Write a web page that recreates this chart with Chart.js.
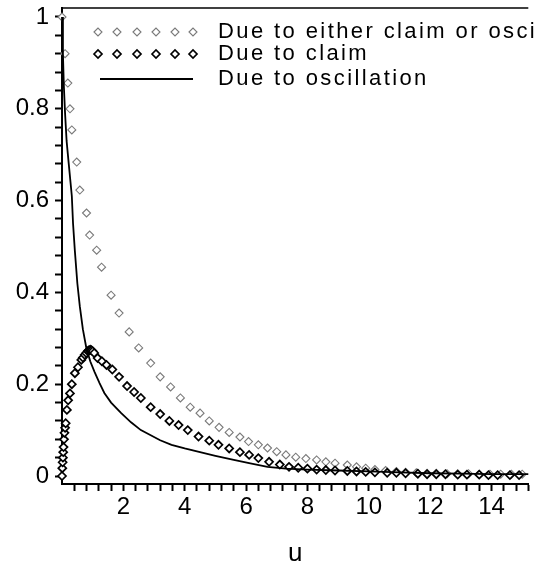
<!DOCTYPE html>
<html>
<head>
<meta charset="utf-8">
<script src="https://cdn.jsdelivr.net/npm/chart.js@4.4.1/dist/chart.umd.min.js"></script>
<style>
  html, body { margin: 0; padding: 0; background: #fff; }
  #wrap { width: 534px; height: 567px; position: relative; }
</style>
</head>
<body>
<div id="wrap"><canvas id="myChart"></canvas></div>
<script>
// series
const seriesNames = ['Due to either claim or oscillation', 'Due to claim', 'Due to oscillation'];

const eitherU = [0, 0.1, 0.19, 0.26, 0.32, 0.48, 0.58, 0.8, 0.9, 1.13, 1.29, 1.6, 1.86, 2.19, 2.5, 2.89, 3.2, 3.54, 3.86, 4.18,
    4.5, 4.8, 5.12, 5.45, 5.8, 6.08, 6.4, 6.7, 7.0, 7.3, 7.62, 7.95, 8.3, 8.6, 8.9, 9.3, 9.6, 9.9, 10.2, 10.55,
    10.9, 11.2, 11.55, 11.9, 12.2, 12.55, 12.9, 13.25, 13.6, 13.95, 14.3, 14.65, 15.0];
const eitherP = [1.0, 0.92, 0.856, 0.80, 0.754, 0.684, 0.623, 0.573, 0.525, 0.492, 0.455, 0.394, 0.355, 0.314, 0.279, 0.246, 0.216, 0.194, 0.17, 0.15,
    0.137, 0.12, 0.106, 0.095, 0.085, 0.075, 0.068, 0.061, 0.053, 0.046, 0.041, 0.038, 0.035, 0.031, 0.028, 0.024, 0.02, 0.017, 0.014, 0.012,
    0.01, 0.008, 0.007, 0.006, 0.006, 0.005, 0.005, 0.005, 0.004, 0.004, 0.004, 0.004, 0.004];

const claimU = [0, 0.01, 0.02, 0.03, 0.04, 0.05, 0.065, 0.08, 0.1, 0.12, 0.16, 0.2, 0.26, 0.32, 0.42, 0.52, 0.63, 0.68, 0.74, 0.79,
    0.84, 0.88, 0.92, 0.96, 1.0, 1.05, 1.16, 1.3, 1.45, 1.64, 1.86, 2.12, 2.35, 2.57, 2.89, 3.2, 3.5, 3.8, 4.1, 4.45,
    4.8, 5.1, 5.45, 5.8, 6.1, 6.4, 6.75, 7.1, 7.4, 7.7, 8.0, 8.3, 8.6, 8.9, 9.3, 9.6, 9.9, 10.2, 10.6, 10.9,
    11.2, 11.6, 11.9, 12.2, 12.5, 12.9, 13.2, 13.6, 13.9, 14.2, 14.6, 14.9];
const claimP = [0, 0.017, 0.03, 0.04, 0.052, 0.063, 0.08, 0.094, 0.105, 0.115, 0.144, 0.165, 0.18, 0.2, 0.224, 0.237, 0.253, 0.258, 0.264, 0.268,
    0.272, 0.274, 0.275, 0.274, 0.272, 0.268, 0.257, 0.25, 0.242, 0.232, 0.216, 0.196, 0.183, 0.17, 0.15, 0.135, 0.12, 0.111, 0.1, 0.086,
    0.077, 0.068, 0.06, 0.052, 0.046, 0.039, 0.031, 0.025, 0.02, 0.018, 0.016, 0.014, 0.013, 0.012, 0.011, 0.01, 0.009, 0.008, 0.007, 0.007,
    0.006, 0.005, 0.004, 0.004, 0.004, 0.003, 0.003, 0.003, 0.002, 0.002, 0.002, 0.002];

const oscU = [0, 0.03, 0.06, 0.1, 0.15, 0.22, 0.32, 0.36, 0.42, 0.5, 0.58, 0.68, 0.79, 0.92, 1.06, 1.22, 1.38, 1.6, 1.93, 2.25,
    2.57, 3.2, 3.57, 4.0, 4.5, 5.0, 5.6, 6.1, 6.7, 7.3, 8.0, 9.0, 10.0, 11.0, 12.0, 13.0, 14.0, 15.2];
const oscP = [1.0, 0.92, 0.85, 0.79, 0.73, 0.68, 0.61, 0.55, 0.49, 0.42, 0.37, 0.32, 0.28, 0.25, 0.227, 0.203, 0.181, 0.16, 0.137, 0.117,
    0.1, 0.078, 0.068, 0.06, 0.052, 0.044, 0.035, 0.028, 0.02, 0.016, 0.014, 0.012, 0.01, 0.008, 0.006, 0.005, 0.004, 0.004];

// tick labels
const xTickLabels = [2, 4, 6, 8, 10, 12, 14];
const yTickLabels = [0, 0.2, 0.4, 0.6, 0.8, 1];
const xMinorStep = 0.4;
const yMinorStep = 0.04;

const pts = (us, ps) => us.map((u, i) => ({ x: u, y: ps[i] }));
const near = (a, b) => Math.abs(a - b) < 1e-6;
const tickFont = { family: "'Liberation Sans', Arial, sans-serif", size: 24 };

// draws the legend block in the top of the plot, Maple style
const mapleLegend = {
    id: 'mapleLegend',
    afterDatasetsDraw(chart) {
        const ctx = chart.ctx;
        const rows = [32, 54, 79];
        const markX = [98, 117, 137, 156, 175, 193];
        ctx.save();
        chart.data.datasets.forEach((ds, i) => {
            const y = rows[i];
            if (ds.showLine) {
                ctx.strokeStyle = '#000';
                ctx.lineWidth = 2;
                ctx.beginPath();
                ctx.moveTo(100, y);
                ctx.lineTo(193, y);
                ctx.stroke();
            } else {
                markX.forEach(x => {
                    ctx.beginPath();
                    ctx.moveTo(x - 4, y); ctx.lineTo(x, y - 4); ctx.lineTo(x + 4, y); ctx.lineTo(x, y + 4);
                    ctx.closePath();
                    ctx.fillStyle = '#fff';
                    ctx.fill();
                    ctx.lineWidth = ds.borderWidth;
                    ctx.strokeStyle = ds.borderColor;
                    ctx.stroke();
                });
            }
            ctx.fillStyle = '#000';
            ctx.font = "22px 'Liberation Sans', Arial, sans-serif";
            ctx.letterSpacing = '2.4px';
            ctx.textBaseline = 'middle';
            ctx.textAlign = 'left';
            ctx.fillText(ds.label, 218, y);
        });
        ctx.restore();
    }
};

// top frame line
const topFrame = {
    id: 'topFrame',
    afterDraw(chart) {
        const a = chart.chartArea;
        const ctx = chart.ctx;
        ctx.save();
        ctx.strokeStyle = '#000';
        ctx.lineWidth = 1.5;
        ctx.beginPath();
        ctx.moveTo(a.left, a.top);
        ctx.lineTo(a.right, a.top);
        ctx.stroke();
        ctx.restore();
    }
};

const makeChart = () => {
    const data = {
        datasets: [{
            label: seriesNames[0],
            data: pts(eitherU, eitherP),
            showLine: false,
            pointStyle: 'rectRot',
            pointRadius: 4,
            borderColor: '#7a7a7a',
            backgroundColor: '#fff',
            borderWidth: 1.1,
            clip: 10,
            order: 3
        }, {
            label: seriesNames[1],
            data: pts(claimU, claimP),
            showLine: false,
            pointStyle: 'rectRot',
            pointRadius: 4,
            borderColor: '#000',
            backgroundColor: '#fff',
            borderWidth: 1.7,
            clip: 10,
            order: 2
        }, {
            label: seriesNames[2],
            data: pts(oscU, oscP),
            showLine: true,
            pointRadius: 0,
            borderColor: '#000',
            borderWidth: 1.8,
            tension: 0,
            clip: 10,
            order: 1
        }]
    };

    const config = {
        type: 'scatter',
        data,
        options: {
            responsive: true,
            maintainAspectRatio: false,
            animation: false,
            layout: { padding: { top: 8, right: 0, left: 0, bottom: 0 } },
            plugins: { legend: { display: false }, tooltip: { enabled: false } },
            scales: {
                x: {
                    type: 'linear',
                    min: 0,
                    max: 15.2,
                    afterBuildTicks: (scale) => {
                        const t = [];
                        for (let i = 1; i * xMinorStep <= 15.2 + 1e-9; i++) t.push({ value: +(i * xMinorStep).toFixed(4) });
                        scale.ticks = t;
                    },
                    afterFit: (scale) => {
                        scale.height = 83;
                        scale.paddingLeft = 0;
                        scale.paddingRight = 0;
                    },
                    ticks: {
                        autoSkip: false,
                        maxRotation: 0,
                        padding: 2,
                        color: '#000',
                        font: tickFont,
                        callback: (v) => xTickLabels.some(l => near(l, v)) ? String(Math.round(v)) : ''
                    },
                    grid: { drawOnChartArea: false, tickLength: 7, color: '#000', tickWidth: 2 },
                    border: { color: '#000', width: 2 },
                    title: {
                        display: true,
                        text: 'u',
                        color: '#000',
                        font: { family: "'Liberation Sans', Arial, sans-serif", size: 26, lineHeight: 1 },
                        padding: { top: 0, bottom: 0 }
                    }
                },
                y: {
                    type: 'linear',
                    min: -0.0174,
                    max: 1.0196,
                    afterBuildTicks: (scale) => {
                        const t = [];
                        for (let i = 0; i * yMinorStep <= 1 + 1e-9; i++) t.push({ value: +(i * yMinorStep).toFixed(4) });
                        scale.ticks = t;
                    },
                    afterFit: (scale) => {
                        scale.width = 62;
                        scale.paddingTop = 0;
                        scale.paddingBottom = 0;
                    },
                    ticks: {
                        autoSkip: false,
                        padding: 6,
                        color: '#000',
                        font: tickFont,
                        callback: (v) => yTickLabels.some(l => near(l, v)) ? String(+v.toFixed(1)) : ''
                    },
                    grid: { drawOnChartArea: false, tickLength: 7, color: '#000', tickWidth: 2 },
                    border: { color: '#000', width: 2 }
                }
            }
        },
        plugins: [mapleLegend, topFrame]
    };

    let myChart = new Chart('myChart', config);
};

makeChart();
</script>
</body>
</html>
